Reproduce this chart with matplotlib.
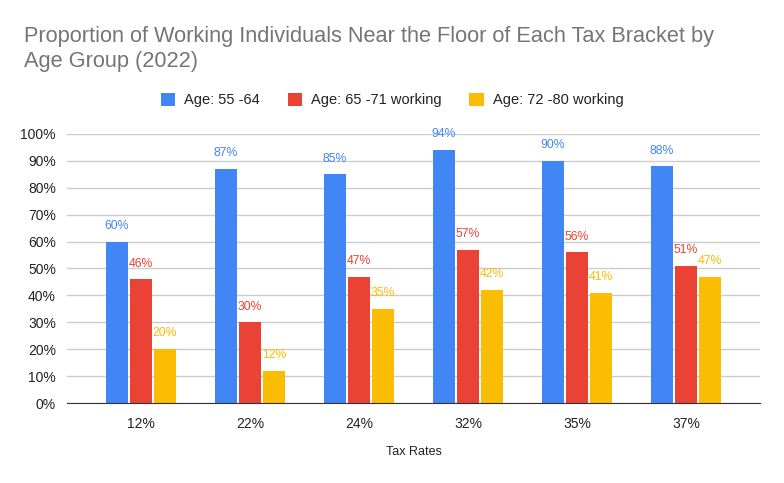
import matplotlib
matplotlib.use('Agg')
import matplotlib.pyplot as plt
import numpy as np

plt.rcParams['font.family'] = ['Liberation Sans', 'DejaVu Sans']

tax_rates = ['12%', '22%', '24%', '32%', '35%', '37%']
series_names = ['Age: 55 -64', 'Age: 65 -71 working', 'Age: 72 -80 working']
age_55_64 = [60, 87, 85, 94, 90, 88]
age_65_71 = [46, 30, 47, 57, 56, 51]
age_72_80 = [20, 12, 35, 42, 41, 47]
colors = ['#4285F4', '#EA4335', '#FBBC04']

fig = plt.figure(figsize=(7.84, 4.83), dpi=100)
ax = fig.add_axes([0.0855, 0.1656, 0.884, 0.557])

x = np.arange(len(tax_rates))
width = 0.2
offset = 0.22

for i, (vals, name, c) in enumerate(zip([age_55_64, age_65_71, age_72_80], series_names, colors)):
    pos = x + (i - 1) * offset
    ax.bar(pos, vals, width, color=c, label=name, zorder=3)
    for p, v in zip(pos, vals):
        ax.annotate(f'{v}%', (p, v), xytext=(0, 7), textcoords='offset points',
                    ha='center', va='bottom', fontsize=8.8, color=c)

ax.set_xlim(-0.679, len(tax_rates) - 1 + 0.679)
ax.set_ylim(0, 100)
ax.set_yticks(range(0, 101, 10))
ax.set_yticklabels([f'{t}%' for t in range(0, 101, 10)])
ax.set_xticks(x)
ax.set_xticklabels(tax_rates)
ax.tick_params(axis='both', length=0, labelsize=10, colors='#222222')
ax.tick_params(axis='y', pad=8)
ax.tick_params(axis='x', pad=10)
ax.grid(axis='y', color='#cccccc', linewidth=1, zorder=0)
for s in ['top', 'right', 'left']:
    ax.spines[s].set_visible(False)
ax.spines['bottom'].set_color('#333333')
ax.spines['bottom'].set_zorder(4)

ax.set_xlabel('Tax Rates', fontsize=9, color='#222222', labelpad=11)

fig.text(0.031, 0.8986, 'Proportion of Working Individuals Near the Floor of Each Tax Bracket by\nAge Group (2022)',
         fontsize=15.7, color='#757575', ha='left', va='center', linespacing=1.2)

fig.legend(loc='center', bbox_to_anchor=(0.5, 0.793), ncol=3, frameon=False, fontsize=10.5,
           handlelength=1, handleheight=1, handletextpad=0.6, columnspacing=1.9,
           labelcolor='#222222')

plt.savefig('out.png', dpi=100)
